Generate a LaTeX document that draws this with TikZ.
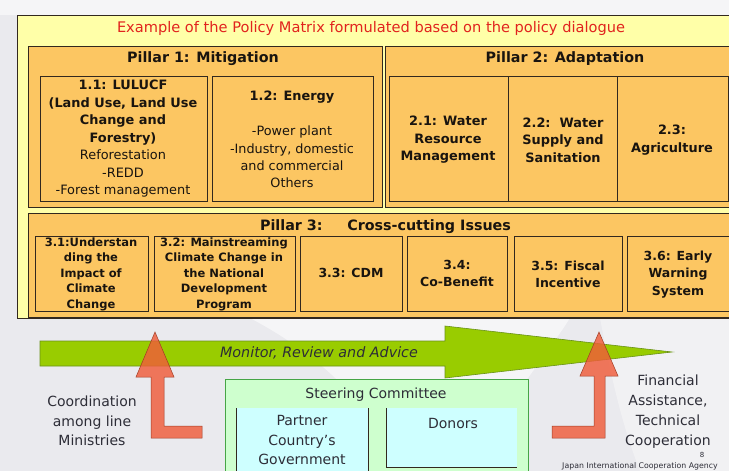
\documentclass[tikz,border=0pt]{standalone}
\usepackage{fontspec}
\setmainfont{DejaVu Sans}
\definecolor{bggray}{RGB}{234,234,238}
\definecolor{panelyellow}{RGB}{255,255,168}
\definecolor{boxorange}{RGB}{252,198,98}
\definecolor{boxline}{RGB}{50,40,30}
\definecolor{txt}{RGB}{25,20,15}
\definecolor{lowtxt}{RGB}{45,45,55}
\definecolor{titlered}{RGB}{225,35,30}
\definecolor{arrowgreen}{RGB}{153,204,0}
\definecolor{arrowgreenline}{RGB}{105,145,25}
\definecolor{arroworange}{RGB}{240,92,58}
\definecolor{arroworangeline}{RGB}{160,60,35}
\definecolor{scgreen}{RGB}{206,255,206}
\definecolor{scgreenline}{RGB}{70,165,70}
\definecolor{sccyan}{RGB}{206,255,255}
\begin{document}
\begin{tikzpicture}[x=1pt,y=-1pt,
  box/.style={draw=boxline,fill=boxorange,line width=0.9pt},
  pillartitle/.style={font=\bfseries\fontsize{14.3}{17}\selectfont,text=txt,inner sep=0},
  btxt/.style={font=\bfseries\fontsize{12.9}{17.5}\selectfont,align=center,text=txt,inner sep=0},
  rtxt/.style={font=\fontsize{12.8}{17.3}\selectfont,align=center,text=txt,inner sep=0},
  stxt/.style={font=\bfseries\fontsize{11.5}{15.5}\selectfont,align=center,text=txt,inner sep=0},
  lowtext/.style={font=\fontsize{14}{19.5}\selectfont,align=center,text=lowtxt,inner sep=0},
  orangearrow/.style={fill=arroworange,fill opacity=0.82,draw=arroworangeline,line width=0.5pt,line join=miter}
]
\useasboundingbox (0,0) rectangle (729,471);
\clip (0,0) rectangle (729,471);
% background
\fill[bggray] (0,0) rectangle (729,471);
\fill[white,opacity=0.55] (0,0) rectangle (729,15);
\fill[white,opacity=0.55] (250,318) -- (570,318) .. controls (530,380) and (490,420) .. (475,471) -- (390,471) .. controls (385,420) and (330,360) .. (250,318) -- cycle;
\fill[white,opacity=0.35] (600,318) -- (729,318) -- (729,471) -- (640,471) .. controls (620,420) and (610,370) .. (600,318) -- cycle;

% yellow panel
\fill[panelyellow] (17,15) rectangle (740,318);
\draw[boxline,line width=0.9pt] (740,15) -- (17,15) -- (17,318) -- (740,318);
\node[font=\fontsize{14.6}{17}\selectfont,text=titlered,inner sep=0] (title) at (371,28) {Example of the Policy Matrix formulated based on the policy dialogue};

% Pillar 1
\draw[box] (28,46) rectangle (382,207);
\node[pillartitle] (p1) at (203,59) {Pillar 1: Mitigation};
\draw[box] (40,76) rectangle (207,201);
\node[btxt] (b11) at (123,139) {1.1: LULUCF\\(Land Use, Land Use\\Change and\\Forestry)\\\mdseries Reforestation\\\mdseries -REDD\\\mdseries -Forest management};
\draw[box] (212,76) rectangle (373,201);
\node[btxt] (b12) at (292,97) {1.2: Energy};
\node[rtxt] (b12list) at (292,157) {-Power plant\\-Industry, domestic\\and commercial\\Others};

% Pillar 2
\draw[box] (385,46) rectangle (740,207);
\node[pillartitle] (p2) at (565,59) {Pillar 2: Adaptation};
\draw[box] (389,76) rectangle (508,201);
\draw[box] (508,76) rectangle (617,201);
\draw[box] (617,76) rectangle (728,201);
\node[btxt] (b21) at (448,140) {2.1: Water\\Resource\\Management};
\node[btxt] (b22) at (563,140) {2.2:\ \ Water\\Supply and\\Sanitation};
\node[btxt] (b23) at (672,140) {2.3:\\Agriculture};

% Pillar 3
\draw[box] (28,213) rectangle (740,317);
\node[pillartitle] (p3) at (385.5,227) {Pillar 3:\hspace{18pt} Cross-cutting Issues};
\draw[box] (35,236) rectangle (148,311);
\draw[box] (154,236) rectangle (295,311);
\draw[box] (300,236) rectangle (402,311);
\draw[box] (407,236) rectangle (507,311);
\draw[box] (514,236) rectangle (622,311);
\draw[box] (627,236) rectangle (735,311);
\node[stxt] (b31) at (91,274) {3.1:Understan\\ding the\\Impact of\\Climate\\Change};
\node[stxt] (b32) at (224,274) {3.2: Mainstreaming\\Climate Change in\\the National\\Development\\Program};
\node[stxt,font=\bfseries\fontsize{12.5}{17}\selectfont] (b33) at (351,273) {3.3: CDM};
\node[stxt,font=\bfseries\fontsize{12.5}{17}\selectfont] (b34) at (457,273.5) {3.4:\\Co-Benefit};
\node[stxt,font=\bfseries\fontsize{12.5}{17}\selectfont] (b35) at (568,274.5) {3.5: Fiscal\\Incentive};
\node[stxt,font=\bfseries\fontsize{12.5}{17.5}\selectfont] (b36) at (678,274.5) {3.6: Early\\Warning\\System};

% green arrow
\draw[fill=arrowgreen,draw=arrowgreenline,line width=0.6pt] (40,341) -- (445,341) -- (445,326) -- (672,352) -- (445,378) -- (445,366) -- (40,366) -- cycle;
\node[font=\itshape\fontsize{14.3}{17}\selectfont,text=lowtxt,inner sep=0] (monitor) at (319,353) {Monitor, Review and Advice};

% steering committee
\draw[fill=scgreen,draw=scgreenline,line width=0.8pt] (225,379) rectangle (528,480);
\node[lowtext] (sc) at (376,395) {Steering Committee};
\fill[sccyan] (236,408) rectangle (368,480);
\draw[boxline,line width=0.8pt] (236,408) -- (236,480);
\draw[boxline,line width=0.8pt] (368,408) -- (368,480);
\node[lowtext] (partner) at (302,440) {Partner\\Country's\\Government};
\fill[sccyan] (386,408) rectangle (517,467);
\draw[boxline,line width=0.8pt] (386,408) -- (386,467) -- (517,467);
\node[lowtext] (donors) at (453,423) {Donors};

% orange arrows
\draw[orangearrow] (136,377) -- (155,332) -- (174,377) -- (164,377) -- (164,426) -- (202,426) -- (202,438) -- (151,438) -- (151,377) -- cycle;
\draw[orangearrow] (580,376) -- (599,332) -- (618,376) -- (605,376) -- (605,438) -- (552,438) -- (552,426) -- (594,426) -- (594,376) -- cycle;

% side texts
\node[lowtext] (coord) at (92,421) {Coordination\\among line\\Ministries};
\node[lowtext,font=\fontsize{14}{20}\selectfont] (fin) at (668,412) {Financial\\Assistance,\\Technical\\Cooperation};
\node[font=\fontsize{7.8}{9}\selectfont,text=lowtxt,inner sep=0] (jica) at (640,466) {Japan International Cooperation Agency};
\node[font=\fontsize{7}{8}\selectfont,text=lowtxt,inner sep=0] (pagenum) at (702,455) {8};
\end{tikzpicture}
\end{document}
